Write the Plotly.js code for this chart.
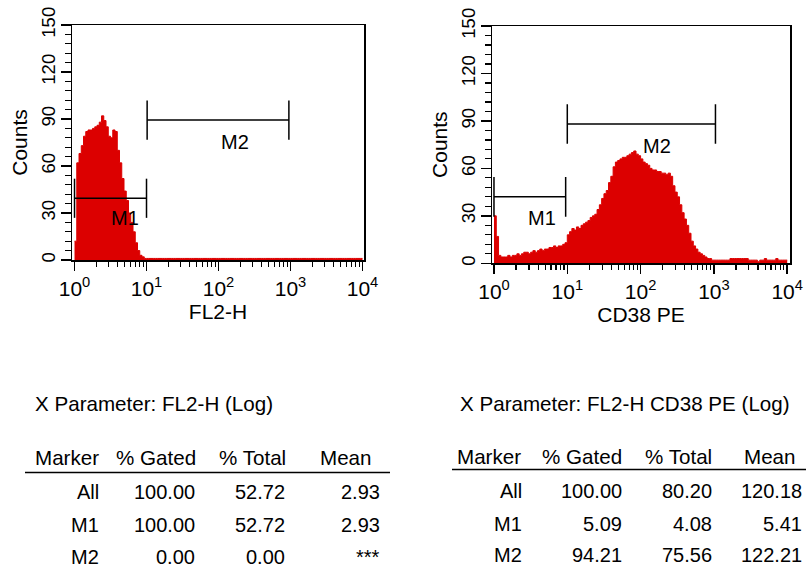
<!DOCTYPE html>
<html>
<head>
<meta charset="utf-8">
<script src="https://cdn.plot.ly/plotly-3.0.1.min.js"></script>
<style>
  html, body { margin: 0; padding: 0; background: #fff; }
  #chart { width: 806px; height: 572px; }
</style>
</head>
<body>
<div id="chart"></div>
<script>
// ---- histogram data: counts per channel, 32 channels per log decade (10^0 .. 10^4) ----
const channelsPerDecade = 32;

const fl2hCounts = [
  12, 62, 68, 73, 79, 82, 83, 83, 84, 85, 86, 88, 92, 89, 85, 79,
  78, 83, 82, 70, 62, 52, 44, 38, 30, 24, 18, 11, 6, 3, 2, 1,
  1, 1, 1, 1, 1, 1, 1, 1, 1, 1, 1, 1, 1, 1, 1, 1,
  1, 1, 1, 1, 1, 1, 1, 1, 1, 1, 1, 1, 1, 1, 1, 1,
  1, 1, 1, 1, 1, 1, 1, 1, 1, 1, 1, 1, 1, 1, 1, 1,
  1, 1, 1, 1, 1, 1, 1, 1, 1, 1, 1, 1, 1, 1, 1, 1,
  1, 1, 1, 1, 1, 1, 1, 1, 1, 1, 1, 1, 1, 1, 1, 1,
  1, 1, 1, 1, 1, 1, 1, 1, 1, 1, 1, 1, 1, 1, 1, 1
];

const cd38Counts = [
  30, 17, 5, 4, 4, 4, 5, 4, 5, 5, 6, 5, 6, 7, 7, 6,
  7, 8, 7, 8, 9, 8, 9, 9, 10, 10, 11, 10, 11, 11, 12, 13,
  18, 20, 22, 21, 23, 22, 24, 25, 26, 27, 29, 30, 31, 34, 37, 41,
  44, 46, 51, 55, 61, 64, 65, 66, 67, 67, 68, 69, 70, 71, 69, 68,
  66, 64, 63, 62, 60, 59, 59, 58, 58, 57, 57, 56, 57, 55, 49, 45,
  42, 37, 32, 28, 24, 19, 14, 11, 9, 7, 6, 5, 4, 3, 3, 2,
  2, 2, 2, 2, 2, 2, 2, 3, 3, 3, 3, 3, 3, 3, 3, 2,
  2, 2, 2, 1, 2, 2, 3, 2, 2, 2, 2, 3, 2, 2, 2, 2
];

// ---- axes ----
const decadeTicks = [1, 10, 100, 1000, 10000];
const decadeLabels = ['10<sup>0</sup>', '10<sup>1</sup>', '10<sup>2</sup>', '10<sup>3</sup>', '10<sup>4</sup>'];
const countTicks = [0, 30, 60, 90, 120, 150];
const countLabels = ['0', '30', '60', '90', '120', '150'];

// ---- marker gates (channel value ranges) ----
const markerNames = ['M1', 'M2'];
const fl2hGates = [[1, 10], [10.2, 950]];
const cd38Gates = [[1, 9.5], [10, 1050]];

// ---- statistics tables ----
const fl2hParam = 'X Parameter: FL2-H (Log)';
const cd38Param = 'X Parameter: FL2-H CD38 PE (Log)';
const tableHeader = ['Marker', '% Gated', '% Total', 'Mean'];
const rowNames = ['All', 'M1', 'M2'];
const fl2hGated = ['100.00', '100.00', '0.00'];
const fl2hTotal = ['52.72', '52.72', '0.00'];
const fl2hMean = ['2.93', '2.93', '***'];
const cd38Gated = ['100.00', '5.09', '94.21'];
const cd38Total = ['80.20', '4.08', '75.56'];
const cd38Mean = ['120.18', '5.41', '122.21'];

// ------------------------------------------------------------------
const W = 806, H = 572;
const FONT = 'Liberation Sans, Arial, Helvetica, sans-serif';
const RED = '#dc0000';

function channelEdges(counts) {
  const x = [], y = [];
  for (let i = 0; i <= counts.length; i++) {
    x.push(Math.pow(10, i / channelsPerDecade));
    y.push(counts[Math.min(i, counts.length - 1)]);
  }
  return { x, y };
}

const minorLog = [];
for (let k = 0; k < 4; k++) for (let d = 2; d <= 9; d++) minorLog.push(d * Math.pow(10, k));

function histTrace(counts, xa, ya) {
  const e = channelEdges(counts);
  return {
    x: e.x, y: e.y, xaxis: xa, yaxis: ya, type: 'scatter', mode: 'lines',
    line: { shape: 'hv', color: RED, width: 1 },
    fill: 'tozeroy', fillcolor: RED, hoverinfo: 'skip', showlegend: false
  };
}

// marker bar: horizontal line with end caps, drawn in data coordinates
const CAP = 12.5;
function gateTrace(gate, level, xa, ya) {
  return {
    x: [gate[0], gate[1], null, gate[0], gate[0], null, gate[1], gate[1]],
    y: [level, level, null, level - CAP, level + CAP, null, level - CAP, level + CAP],
    xaxis: xa, yaxis: ya, type: 'scatter', mode: 'lines',
    line: { color: '#000', width: 1.5 }, hoverinfo: 'skip', showlegend: false,
    cliponaxis: false
  };
}

const fl2hLevels = [39.4, 89.3];
const cd38Levels = [42, 88];

const traces = [
  histTrace(fl2hCounts, 'x', 'y'),
  histTrace(cd38Counts, 'x2', 'y2'),
  gateTrace(fl2hGates[0], fl2hLevels[0], 'x', 'y'),
  gateTrace(fl2hGates[1], fl2hLevels[1], 'x', 'y'),
  gateTrace(cd38Gates[0], cd38Levels[0], 'x2', 'y2'),
  gateTrace(cd38Gates[1], cd38Levels[1], 'x2', 'y2')
];

function xAxis(domainPx, range, title, anchor) {
  return {
    type: 'log', domain: [domainPx[0] / W, domainPx[1] / W], range: range, anchor: anchor,
    tickmode: 'array', tickvals: decadeTicks, ticktext: decadeLabels,
    ticks: 'outside', ticklen: 9, tickwidth: 1.5, tickcolor: '#000',
    minor: { tickmode: 'array', tickvals: minorLog, ticks: 'outside', ticklen: 5, tickwidth: 1.2, tickcolor: '#000', showgrid: false },
    showline: true, linewidth: 1.5, linecolor: '#000', mirror: true,
    showgrid: false, zeroline: false, fixedrange: true,
    tickfont: { family: FONT, size: 21, color: '#000' },
    title: { text: title, font: { family: FONT, size: 21, color: '#000' }, standoff: 1 }
  };
}

function yAxis(domainPx, anchor) {
  return {
    domain: [1 - domainPx[1] / H, 1 - domainPx[0] / H], range: [0, 150], anchor: anchor,
    tickmode: 'array', tickvals: countTicks, ticktext: countLabels, tickangle: -90,
    ticks: 'outside', ticklen: 10, tickwidth: 1.5, tickcolor: '#000',
    minor: { dtick: 6, ticks: 'outside', ticklen: 6, tickwidth: 1.2, tickcolor: '#000', showgrid: false },
    showline: true, linewidth: 1.5, linecolor: '#000', mirror: true,
    showgrid: false, zeroline: false, fixedrange: true,
    ticklabelstandoff: -2,
    tickfont: { family: FONT, size: 18.5, color: '#000' },
    title: { text: 'Counts', font: { family: FONT, size: 21, color: '#000' }, standoff: 4 }
  };
}

const annotations = [];
function txt(px, py, text, anchor, size) {
  annotations.push({
    xref: 'paper', yref: 'paper', x: px / W, y: 1 - py / H,
    text: text, showarrow: false, xanchor: anchor, yanchor: 'middle',
    font: { family: FONT, size: size, color: '#000' }
  });
}
function gateLabel(name, logx, count, xa, ya) {
  annotations.push({
    xref: xa, yref: ya, x: logx, y: count, text: name, showarrow: false,
    xanchor: 'center', yanchor: 'middle', font: { family: FONT, size: 20, color: '#000' }
  });
}
gateLabel(markerNames[0], 0.70, 26.8, 'x', 'y');
gateLabel(markerNames[1], 2.23, 75.5, 'x', 'y');
gateLabel(markerNames[0], 0.66, 28.4, 'x2', 'y2');
gateLabel(markerNames[1], 2.22, 74.3, 'x2', 'y2');

// statistics tables
txt(33, 403, fl2hParam, 'left', 20.6);
txt(458, 403, cd38Param, 'left', 20.6);

// header: "Marker" and "Mean" start at a left edge, the % columns end at the value column edge
const leftHead = [[33, 'left'], [198, 'right'], [288, 'right'], [318, 'left']];
const rightHead = [[455, 'left'], [624, 'right'], [714, 'right'], [742, 'left']];
tableHeader.forEach((h, i) => {
  txt(leftHead[i][0], 457, h, leftHead[i][1], 20.6);
  txt(rightHead[i][0], 456, h, rightHead[i][1], 20.6);
});

const leftColR = [101, 197, 287, 382];
const rightColR = [524, 624, 714, 804];
const leftRowY = [491.5, 525, 557];
const rightRowY = [490.5, 523.5, 555];
rowNames.forEach((r, j) => {
  [r, fl2hGated[j], fl2hTotal[j], fl2hMean[j]].forEach((v, i) => txt(leftColR[i], leftRowY[j], v, 'right', 20));
  [r, cd38Gated[j], cd38Total[j], cd38Mean[j]].forEach((v, i) => txt(rightColR[i], rightRowY[j], v, 'right', 20));
});

const shapes = [
  { type: 'line', xref: 'paper', yref: 'paper', x0: 25 / W, x1: 390 / W, y0: 1 - 472.5 / H, y1: 1 - 472.5 / H, line: { color: '#000', width: 1.5 } },
  { type: 'line', xref: 'paper', yref: 'paper', x0: 452 / W, x1: 806 / W, y0: 1 - 469.5 / H, y1: 1 - 469.5 / H, line: { color: '#000', width: 1.5 } }
];

const layout = {
  width: W, height: H,
  margin: { l: 0, r: 0, t: 0, b: 0 },
  paper_bgcolor: '#fff', plot_bgcolor: '#fff',
  showlegend: false,
  xaxis: xAxis([72, 364], [-0.035, 4.021], 'FL2-H', 'y'),
  yaxis: yAxis([25, 260], 'x'),
  xaxis2: xAxis([492, 790], [-0.027, 4.038], 'CD38 PE', 'y2'),
  yaxis2: yAxis([26, 263.3], 'x2'),
  annotations: annotations,
  shapes: shapes
};

Plotly.newPlot('chart', traces, layout, { staticPlot: true, displayModeBar: false });
</script>
</body>
</html>
